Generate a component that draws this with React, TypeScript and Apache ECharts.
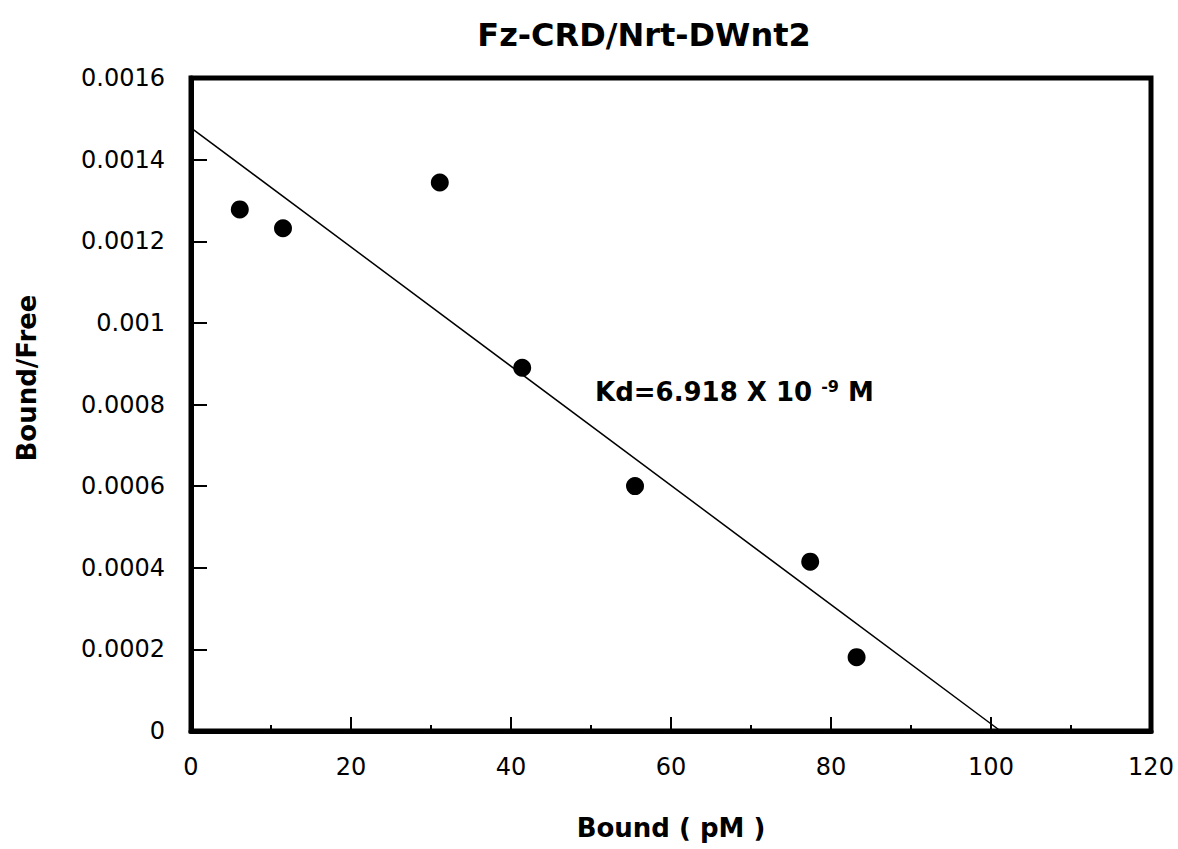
import React, { useEffect, useRef } from "react";
import * as echarts from "echarts";

const titleText = "Fz-CRD/Nrt-DWnt2";
const xAxisTitle = "Bound ( pM )";
const yAxisTitle = "Bound/Free";
const boundPM = [6.1, 11.5, 31.1, 41.4, 55.5, 77.4, 83.2];
const boundFree = [0.001278, 0.001232, 0.001344, 0.00089, 0.0006, 0.000415, 0.000181];
const fitX = [0, 101.2];
const fitY = [0.001478, 0];
const xTicks = [0, 20, 40, 60, 80, 100, 120];
const yTicks = ["0", "0.0002", "0.0004", "0.0006", "0.0008", "0.001", "0.0012", "0.0014", "0.0016"];

const FONT = "DejaVu Sans";

export default function App() {
  const ref = useRef<HTMLDivElement>(null);
  useEffect(() => {
    if (!ref.current) return;
    const chart = echarts.init(ref.current, null, { renderer: "svg" });
    const left = 191, top = 78, width = 960, height = 653;
    chart.setOption({
      animation: false,
      backgroundColor: "#fff",
      grid: {
        left, top, width, height,
        show: true,
        borderWidth: 5,
        borderColor: "#000",
      },
      xAxis: {
        type: "value",
        min: xTicks[0],
        max: xTicks[xTicks.length - 1],
        interval: 20,
        axisLine: { show: true, lineStyle: { color: "#000", width: 5 } },
        axisTick: { show: true, inside: true, length: 14, lineStyle: { color: "#000", width: 2 } },
        minorTick: { show: true, splitNumber: 2, length: 6, lineStyle: { color: "#000", width: 2 } },
        splitLine: { show: false },
        axisLabel: { color: "#000", fontFamily: FONT, fontSize: 24, margin: 24 },
        name: xAxisTitle,
        nameLocation: "middle",
        nameGap: 84,
        nameTextStyle: { color: "#000", fontFamily: FONT, fontSize: 26, fontWeight: "bold" },
      },
      yAxis: {
        type: "value",
        min: 0,
        max: 0.0016,
        interval: 0.0002,
        axisLine: { show: true, lineStyle: { color: "#000", width: 5 } },
        axisTick: { show: true, inside: true, length: 16, lineStyle: { color: "#000", width: 2 } },
        splitLine: { show: false },
        axisLabel: {
          color: "#000",
          fontFamily: FONT,
          fontSize: 24,
          margin: 26,
          formatter: (v: number) => yTicks[Math.round(v / 0.0002)] ?? String(v),
        },
      },
      graphic: [
        {
          type: "text",
          x: 644,
          y: 35,
          style: {
            text: titleText,
            fill: "#000",
            font: `bold 32px "${FONT}"`,
            align: "center",
            verticalAlign: "middle",
          },
        },
        {
          type: "text",
          x: 27,
          y: 378,
          rotation: Math.PI / 2,
          style: {
            text: yAxisTitle,
            fill: "#000",
            font: `bold 26px "${FONT}"`,
            align: "center",
            verticalAlign: "middle",
          },
        },
        {
          type: "text",
          x: 595,
          y: 392,
          style: {
            text: "{a|Kd=6.918 X 10 }{b|-9}{a| M}",
            fill: "#000",
            verticalAlign: "middle",
            align: "left",
            rich: {
              a: { fontFamily: FONT, fontWeight: "bold", fontSize: 26, fill: "#000", lineHeight: 30 },
              b: { fontFamily: FONT, fontWeight: "bold", fontSize: 16, fill: "#000", lineHeight: 30, padding: [0, 0, 12, 0] },
            },
          },
        },
      ],
      series: [
        {
          type: "line",
          data: fitX.map((x, i) => [x, fitY[i]]),
          symbol: "none",
          lineStyle: { color: "#000", width: 1.5 },
          z: 2,
        },
        {
          type: "scatter",
          data: boundPM.map((x, i) => [x, boundFree[i]]),
          symbol: "circle",
          symbolSize: 18,
          itemStyle: { color: "#000", opacity: 1 },
          z: 3,
        },
      ],
    });
    return () => chart.dispose();
  }, []);
  return (
    <div
      ref={ref}
      style={{ position: "absolute", left: 0, top: 0, width: 1178, height: 849, background: "#fff" }}
    />
  );
}
